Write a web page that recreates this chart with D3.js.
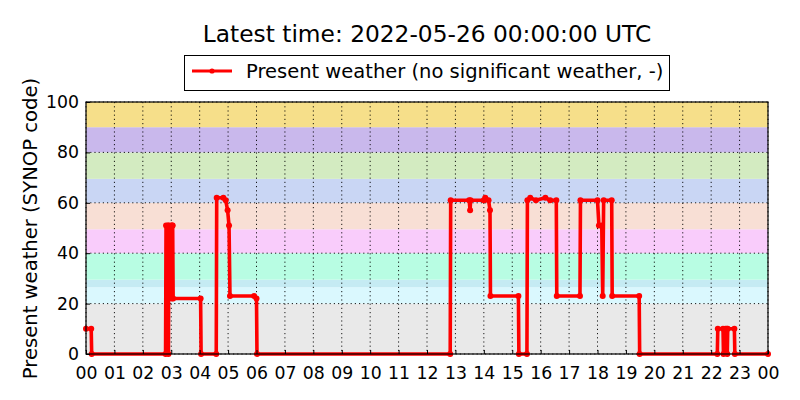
<!DOCTYPE html>
<html>
<head>
<meta charset="utf-8">
<script src="https://cdn.jsdelivr.net/npm/d3@7"></script>
<style>
  body { margin: 0; background: #fff; }
  svg { font-family: "DejaVu Sans", sans-serif; display: block; }
</style>
</head>
<body>
<div id="chart"></div>
<script>
// observation times (HH:MM, "24:00" = next midnight) and present weather codes
const times = ["00:00","00:11","00:12","02:48","02:49","02:53","02:54","02:55","03:00","03:01",
  "03:02","03:03","03:04","04:02","04:03","04:35","04:36","04:50","04:55","04:59",
  "05:02","05:04","05:55","06:00","06:01","12:49","12:50","13:29","13:31","13:32",
  "14:00","14:03","14:10","14:13","14:14","15:13","15:14","15:31","15:32","15:38",
  "15:50","16:10","16:20","16:33","16:34","17:23","17:24","18:00","18:03","18:09",
  "18:11","18:13","18:30","18:31","19:28","19:29","22:13","22:14","22:25","22:26",
  "22:30","22:33","22:34","22:35","22:49","22:50","24:00"];
const codes = [10,10,0,0,51,51,0,51,51,22,
  51,51,22,22,0,0,62,62,61,57,
  51,23,23,22,0,0,61,61,57,61,
  61,62,61,57,23,23,0,0,61,62,
  61,62,61,61,23,23,61,61,51,51,
  23,61,61,23,23,0,0,10,10,0,
  10,10,0,10,10,0,0];

// background bands of SYNOP code groups
const bandLow  = [0, 20, 26.5, 29.5, 40, 49.5, 60, 69.5, 80, 90];
const bandHigh = [20, 26.5, 29.5, 40, 49.5, 60, 69.5, 80, 90, 100];
const bandColors = ["#e9e9e9","#daf8fe","#c5ebf3","#b8fde3","#f9ccfb","#f8dfd5","#c9d6f4","#d3ebc1","#c9b8ec","#f6df8a"];

const yTicks = [0, 20, 40, 60, 80, 100];
const title = "Latest time: 2022-05-26 00:00:00 UTC";
const seriesName = "Present weather (no significant weather, -)";
const yLabel = "Present weather (SYNOP code)";

const W = 800, H = 400;
const margin = {left: 86, right: 32, top: 102, bottom: 46};
const day0 = Date.UTC(2022, 4, 25);

const toDate = s => {
  const [h, m] = s.split(":").map(Number);
  return new Date(day0 + (h * 60 + m) * 60000);
};
const data = times.map((t, i) => ({t: toDate(t), v: codes[i]}));

const svg = d3.select("#chart").append("svg").attr("width", W).attr("height", H);
svg.append("rect").attr("width", W).attr("height", H).attr("fill", "#fff");

const x = d3.scaleUtc()
  .domain([new Date(day0), new Date(day0 + 24 * 3600000)])
  .range([margin.left, W - margin.right]);
const y = d3.scaleLinear().domain([0, 100]).range([H - margin.bottom, margin.top]);

const x0 = x.range()[0], x1 = x.range()[1];
const y0 = y.range()[0], y1 = y.range()[1];

// bands
svg.append("g").selectAll("rect").data(bandLow).join("rect")
  .attr("x", x0).attr("width", x1 - x0)
  .attr("y", (d, i) => y(bandHigh[i]))
  .attr("height", (d, i) => y(d) - y(bandHigh[i]))
  .attr("fill", (d, i) => bandColors[i]);

// grid
const hours = x.ticks(d3.utcHour.every(1));
const grid = svg.append("g").attr("stroke", "#000").attr("stroke-width", 0.9)
  .attr("stroke-dasharray", "1.2,3");
grid.selectAll("line.v").data(hours).join("line").attr("class", "v")
  .attr("x1", d => x(d)).attr("x2", d => x(d)).attr("y1", y1).attr("y2", y0);
grid.selectAll("line.h").data(yTicks).join("line").attr("class", "h")
  .attr("y1", d => y(d)).attr("y2", d => y(d)).attr("x1", x0).attr("x2", x1);

// series
const line = d3.line().x(d => x(d.t)).y(d => y(d.v));
svg.append("path").datum(data)
  .attr("d", line)
  .attr("fill", "none")
  .attr("stroke", "#ff0000")
  .attr("stroke-width", 3.6)
  .attr("stroke-linejoin", "round");
svg.append("g").selectAll("circle").data(data).join("circle")
  .attr("cx", d => x(d.t)).attr("cy", d => y(d.v)).attr("r", 3)
  .attr("fill", "#ff0000");

// axes (ticks point inward like the original)
const xAxis = svg.append("g").attr("transform", `translate(0,${y0})`)
  .call(d3.axisBottom(x).ticks(d3.utcHour.every(1)).tickFormat(d3.utcFormat("%H"))
    .tickSizeInner(-4).tickSizeOuter(0).tickPadding(9));
const yAxis = svg.append("g").attr("transform", `translate(${x0},0)`)
  .call(d3.axisLeft(y).tickValues(yTicks).tickSizeInner(-4).tickSizeOuter(0).tickPadding(7));
[xAxis, yAxis].forEach(a => {
  a.select(".domain").remove();
  a.selectAll("text").attr("font-size", 17.3).attr("fill", "#000")
    .attr("font-family", "DejaVu Sans, sans-serif");
});
xAxis.selectAll("text").attr("dy", "0.9em");

// frame
svg.append("rect").attr("x", x0).attr("y", y1).attr("width", x1 - x0).attr("height", y0 - y1)
  .attr("fill", "none").attr("stroke", "#000").attr("stroke-width", 1.2);

// title
svg.append("text").attr("x", (x0 + x1) / 2).attr("y", 42)
  .attr("text-anchor", "middle").attr("font-size", 23.3).text(title);

// y label
svg.append("text")
  .attr("transform", `translate(37,${(y0 + y1) / 2 + 0.5}) rotate(-90)`)
  .attr("text-anchor", "middle").attr("font-size", 19.6).text(yLabel);

// legend
const lg = svg.append("g");
lg.append("rect").attr("x", 184.5).attr("y", 55.5).attr("width", 485).attr("height", 35)
  .attr("fill", "#fff").attr("stroke", "#000").attr("stroke-width", 1);
lg.append("line").attr("x1", 192).attr("x2", 232).attr("y1", 71).attr("y2", 71)
  .attr("stroke", "#ff0000").attr("stroke-width", 3);
lg.append("circle").attr("cx", 212).attr("cy", 71).attr("r", 2.6).attr("fill", "#ff0000");
lg.append("text").attr("x", 246).attr("y", 78).attr("font-size", 19.5).text(seriesName);
</script>
</body>
</html>
